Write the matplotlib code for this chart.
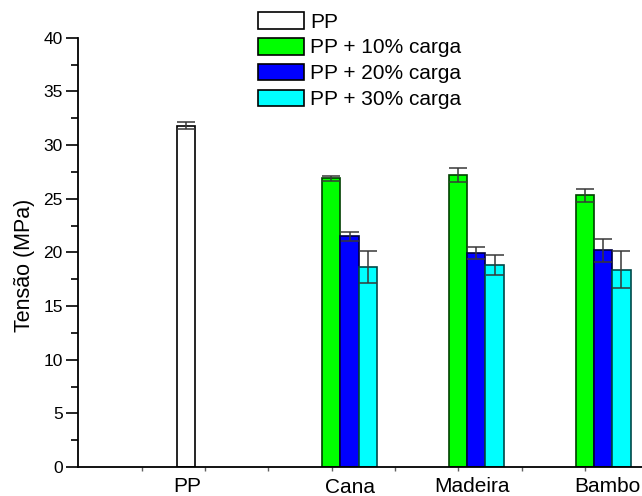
import numpy as np
import matplotlib
matplotlib.use("Agg")
import matplotlib.pyplot as plt
from matplotlib.transforms import blended_transform_factory

# ---- data ----
categories = ["PP", "Cana", "Madeira", "Bambo"]
series_names = ["PP", "PP + 10% carga", "PP + 20% carga", "PP + 30% carga"]
pp_vals = [31.8, np.nan, np.nan, np.nan]
pp_err = [0.35, np.nan, np.nan, np.nan]
c10_vals = [np.nan, 26.9, 27.2, 25.3]
c10_err = [np.nan, 0.23, 0.65, 0.62]
c20_vals = [np.nan, 21.5, 19.95, 20.2]
c20_err = [np.nan, 0.43, 0.59, 1.09]
c30_vals = [np.nan, 18.65, 18.85, 18.4]
c30_err = [np.nan, 1.52, 0.93, 1.68]
y_ticks = [0, 5, 10, 15, 20, 25, 30, 35, 40]

plt.rcParams['font.family'] = ['Liberation Sans', 'DejaVu Sans']

fig = plt.figure(figsize=(6.42, 4.96), dpi=100)
ax = fig.add_axes([78 / 642, 29 / 496, 1 - 78 / 642, (467 - 37.7) / 496])

x = np.arange(len(categories))
w = 0.1447
vals = [pp_vals, c10_vals, c20_vals, c30_vals]
errs = [pp_err, c10_err, c20_err, c30_err]
faces = ["white", "#00ff00", "#0000ff", "#00ffff"]
edges = ["black", "#004000", "#000040", "#004848"]

handles = []
for k, (v, e, fc, ec, name) in enumerate(zip(vals, errs, faces, edges, series_names)):
    pos = x + (k - 1.5) * w
    b = ax.bar(pos, v, width=w, color=fc, edgecolor=ec, linewidth=1.2, label=name, zorder=2)
    ax.errorbar(pos, v, yerr=e, fmt='none', ecolor='#383838', elinewidth=1.1,
                capsize=6.5, capthick=1.1, zorder=3)
    handles.append(b)

ax.set_yticks(y_ticks)
ax.set_yticks(np.arange(2.5, 40, 5), minor=True)
ax.tick_params(axis='y', which='major', direction='out', length=9, width=1.2, labelsize=12.5, pad=2)
ax.tick_params(axis='y', which='minor', direction='out', length=5, width=1.2)

ax.set_xticks(x - 0.07)
ax.set_xticks(np.arange(-1, 4) + 0.432, minor=True)
ax.tick_params(axis='x', which='both', direction='out', length=3, width=1, color='#606060',
               labelbottom=False)
ax.set_xlim(-1.071, 3.38)
ax.set_ylim(0, 40)

for s in ['top', 'right']:
    ax.spines[s].set_visible(False)
ax.spines['left'].set_linewidth(1.3)
ax.spines['bottom'].set_linewidth(1.3)

ax.set_ylabel("Tensão (MPa)", fontsize=15.5)
ax.yaxis.set_label_coords((35 - 78) / 564, (467 - 265.7) / 429.3)

trans = blended_transform_factory(ax.transData, fig.transFigure)
label_offsets = [-0.205, 0.076, 0.037, 0.103]
label_y = [4.5 / 496, 3.2 / 496, 3.5 / 496, 4 / 496]
for i, (cat, off, ly) in enumerate(zip(categories, label_offsets, label_y)):
    ax.text(i + off, ly, cat, transform=trans, ha='center', va='baseline', fontsize=15)

leg = fig.legend(handles=handles, labels=series_names, loc='upper left',
                 bbox_to_anchor=(258 / 642, (496 - 12) / 496), bbox_transform=fig.transFigure,
                 frameon=False, fontsize=15, handlelength=2.2, handleheight=0.86,
                 handletextpad=0.32, labelspacing=0.3, borderpad=0, borderaxespad=0)
for h in leg.legend_handles:
    h.set_edgecolor('black')
    h.set_linewidth(1.2)

fig.savefig("out.png", dpi=100)
